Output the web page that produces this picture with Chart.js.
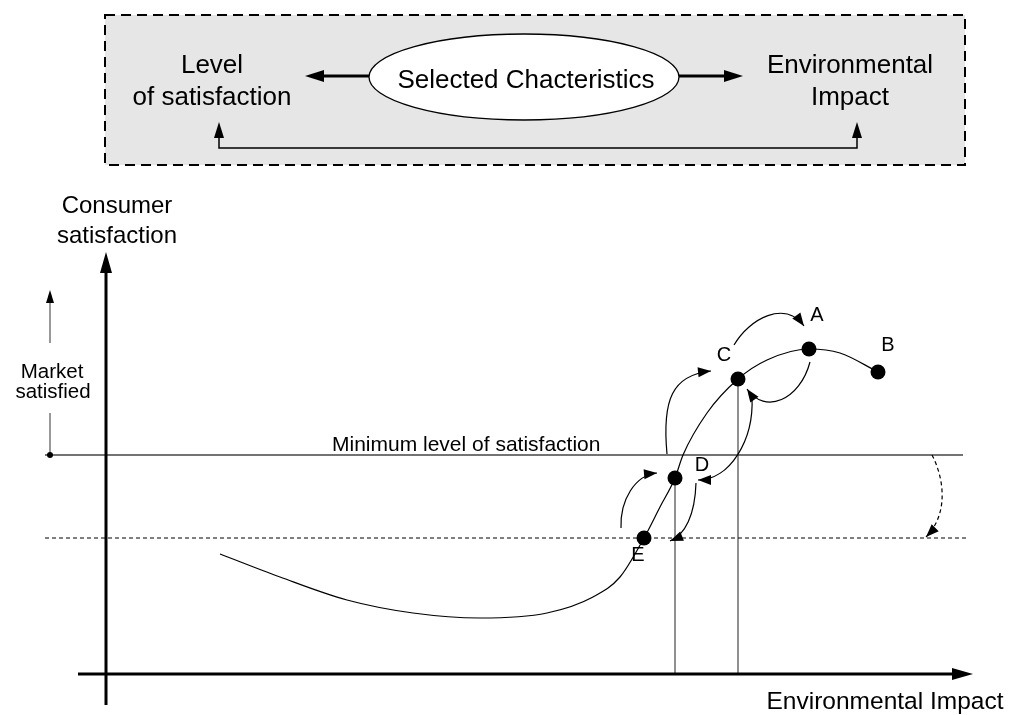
<!DOCTYPE html>
<html>
<head>
<meta charset="utf-8">
<script src="https://cdn.jsdelivr.net/npm/chart.js@4"></script>
<style>
html,body{margin:0;padding:0;background:#fff;}
canvas{display:block;}
</style>
</head>
<body>
<canvas id="c" width="1011" height="715"></canvas>
<script>
// ---- data (impact units along x, satisfaction units along y; origin = axis crossing) ----
const curveImpact       = [114,174,241,307,374,441,487,514,538,554,569,577,601,632,661,703,734,772];
const curveSatisfaction = [120, 97, 74, 61, 56, 61, 77, 97,136,167,196,219,261,295,314,325,321,302];

const pointNames        = ['A','B','C','D','E'];
const pointImpact       = [703,772,632,569,538];
const pointSatisfaction = [325,302,295,196,136];

const minimumLevel = 219;   // minimum level of satisfaction
const lowerLevel   = 136;   // lowered level (dashed)
const levelStart   = -61;
const minimumEnd   = 857;
const lowerEnd     = 861;

const dropNames = ['D','C'];   // vertical lines from these points to the impact axis

// transitions between points (cubic paths: start, ctrl1, ctrl2, end) in chart units
const transitions = [
  {p:[[628,329],[644,356],[679,374],[698,348]], dashed:false},
  {p:[[561,220],[556,274],[566,299],[605,303]], dashed:false},
  {p:[[704,312],[694,274],[659,259],[641,285]], dashed:false},
  {p:[[646,277],[648,234],[624,194],[592,194]], dashed:false},
  {p:[[515,146],[514,174],[529,199],[551,201]], dashed:false},
  {p:[[590,191],[589,159],[579,139],[564,133]], dashed:false},
  {p:[[826,219],[839,194],[842,159],[820,137]], dashed:true}
];

// ---- build datasets ----
const curveData = curveImpact.map((x,i)=>({x:x, y:curveSatisfaction[i]}));
const pointData = pointImpact.map((x,i)=>({x:x, y:pointSatisfaction[i]}));
const dropSets = dropNames.map(n=>{
  const i = pointNames.indexOf(n);
  return {
    type:'line', data:[{x:pointImpact[i],y:0},{x:pointImpact[i],y:pointSatisfaction[i]}],
    borderColor:'#555', borderWidth:1.3, pointRadius:0, showLine:true, order:5
  };
});

const FONT = '"Liberation Sans", Arial, Helvetica, sans-serif';

function head(ctx, tx, ty, fx, fy, len, half){
  const a = Math.atan2(ty-fy, tx-fx);
  ctx.beginPath();
  ctx.moveTo(tx,ty);
  ctx.lineTo(tx - len*Math.cos(a) + half*Math.sin(a), ty - len*Math.sin(a) - half*Math.cos(a));
  ctx.lineTo(tx - len*Math.cos(a) - half*Math.sin(a), ty - len*Math.sin(a) + half*Math.cos(a));
  ctx.closePath();
  ctx.fill();
}
function arrowLine(ctx, x1,y1,x2,y2, lw, len, half){
  const a = Math.atan2(y2-y1, x2-x1);
  ctx.lineWidth = lw;
  ctx.beginPath();
  ctx.moveTo(x1,y1);
  ctx.lineTo(x2 - (len-1)*Math.cos(a), y2 - (len-1)*Math.sin(a));
  ctx.stroke();
  head(ctx, x2,y2,x1,y1,len,half);
}

const topBoxPlugin = {
  id:'topBox',
  beforeDraw(chart){
    const ctx = chart.ctx;
    ctx.save();
    ctx.fillStyle = '#fff';
    ctx.fillRect(0,0,chart.width,chart.height);
    // dashed grey box
    ctx.fillStyle = '#e6e6e6';
    ctx.fillRect(105,15,860,150);
    ctx.setLineDash([10,6]);
    ctx.strokeStyle = '#000';
    ctx.lineWidth = 2;
    ctx.strokeRect(105,15,860,150);
    ctx.setLineDash([]);
    // ellipse
    ctx.beginPath();
    ctx.ellipse(524,77,155,43,0,0,Math.PI*2);
    ctx.fillStyle = '#fff';
    ctx.fill();
    ctx.lineWidth = 1.3;
    ctx.stroke();
    ctx.fillStyle = '#000';
    ctx.font = '26px ' + FONT;
    ctx.textAlign = 'center';
    ctx.textBaseline = 'alphabetic';
    ctx.fillText('Selected Chacteristics', 526, 88);
    ctx.fillText('Level', 212, 73);
    ctx.fillText('of satisfaction', 212, 105);
    ctx.fillText('Environmental', 850, 73);
    ctx.fillText('Impact', 850, 105);
    // arrows from ellipse
    arrowLine(ctx, 369,76, 305,76, 3, 19, 6);
    arrowLine(ctx, 679,76, 743,76, 3, 19, 6);
    // bottom connector
    ctx.lineWidth = 1.5;
    ctx.beginPath();
    ctx.moveTo(219,135); ctx.lineTo(219,148); ctx.lineTo(857,148); ctx.lineTo(857,135);
    ctx.stroke();
    head(ctx, 219,122, 219,148, 16, 5);
    head(ctx, 857,122, 857,148, 16, 5);
    ctx.restore();
  }
};

const annotatePlugin = {
  id:'annotate',
  afterDatasetsDraw(chart){
    const ctx = chart.ctx;
    const xs = chart.scales.x, ys = chart.scales.y;
    const X = v => xs.getPixelForValue(v), Y = v => ys.getPixelForValue(v);
    ctx.save();
    ctx.fillStyle = '#000';
    ctx.strokeStyle = '#000';
    // axes
    arrowLine(ctx, X(0), Y(-31), X(0), Y(422), 3, 21, 6);
    arrowLine(ctx, X(-28), Y(0), X(867), Y(0), 3, 21, 6);
    // market satisfied marker
    ctx.strokeStyle = '#555';
    ctx.lineWidth = 1.2;
    ctx.beginPath();
    ctx.moveTo(X(-56), Y(minimumLevel)); ctx.lineTo(X(-56), Y(minimumLevel+42));
    ctx.stroke();
    ctx.beginPath();
    ctx.moveTo(X(-56), Y(minimumLevel+112)); ctx.lineTo(X(-56), Y(minimumLevel+155));
    ctx.stroke();
    ctx.fillStyle = '#000';
    head(ctx, X(-56), Y(minimumLevel+165), X(-56), Y(minimumLevel+112), 13, 4);
    ctx.beginPath();
    ctx.arc(X(-56), Y(minimumLevel), 3, 0, Math.PI*2);
    ctx.fill();
    // transitions
    ctx.strokeStyle = '#000';
    transitions.forEach(t=>{
      const p = t.p.map(q=>[X(q[0]),Y(q[1])]);
      ctx.lineWidth = 1.2;
      ctx.setLineDash(t.dashed ? [4,3] : []);
      ctx.beginPath();
      ctx.moveTo(p[0][0],p[0][1]);
      ctx.bezierCurveTo(p[1][0],p[1][1],p[2][0],p[2][1],p[3][0],p[3][1]);
      ctx.stroke();
      ctx.setLineDash([]);
      head(ctx, p[3][0],p[3][1], p[2][0],p[2][1], 13, 5);
    });
    // texts
    ctx.fillStyle = '#000';
    ctx.textAlign = 'center';
    ctx.textBaseline = 'alphabetic';
    ctx.font = '24px ' + FONT;
    ctx.fillText('Consumer', 117, 213);
    ctx.fillText('satisfaction', 117, 243);
    ctx.font = '24.5px ' + FONT;
    ctx.fillText('Environmental Impact', 885, 709);
    ctx.font = '20.5px ' + FONT;
    ctx.fillText('Market', 52, 378);
    ctx.fillText('satisfied', 53, 398);
    ctx.textAlign = 'left';
    ctx.font = '21px ' + FONT;
    ctx.fillText('Minimum level of satisfaction', 332, 451);
    // point labels
    const off = {A:[8,-34], B:[10,-27], C:[-14,-24], D:[27,-13], E:[-6,17]};
    ctx.textAlign = 'center';
    ctx.textBaseline = 'middle';
    ctx.font = '20px ' + FONT;
    pointNames.forEach((n,i)=>{
      const o = off[n];
      ctx.fillText(n, X(pointImpact[i]) + o[0], Y(pointSatisfaction[i]) + o[1]);
    });
    ctx.restore();
  }
};

new Chart(document.getElementById('c'), {
  type:'scatter',
  data:{
    datasets:[
      {type:'line', label:'curve', data:curveData, borderColor:'#000', borderWidth:1.2,
       pointRadius:0, cubicInterpolationMode:'monotone', showLine:true, fill:false, order:3},
      {type:'line', label:'minimum', data:[{x:levelStart,y:minimumLevel},{x:minimumEnd,y:minimumLevel}],
       borderColor:'#444', borderWidth:1.3, pointRadius:0, showLine:true, order:4},
      {type:'line', label:'lower', data:[{x:levelStart,y:lowerLevel},{x:lowerEnd,y:lowerLevel}],
       borderColor:'#000', borderWidth:1, borderDash:[4,3], pointRadius:0, showLine:true, order:4},
      ...dropSets,
      {type:'scatter', label:'points', data:pointData, backgroundColor:'#000', borderColor:'#000',
       pointRadius:7.5, borderWidth:0, order:1}
    ]
  },
  options:{
    responsive:false,
    animation:false,
    devicePixelRatio:1,
    layout:{padding:0, autoPadding:false},
    plugins:{legend:{display:false}, tooltip:{enabled:false}},
    events:[],
    scales:{
      x:{type:'linear', min:-106, max:905, display:false},
      y:{type:'linear', min:-41, max:674, display:false}
    }
  },
  plugins:[topBoxPlugin, annotatePlugin]
});
</script>
</body>
</html>
